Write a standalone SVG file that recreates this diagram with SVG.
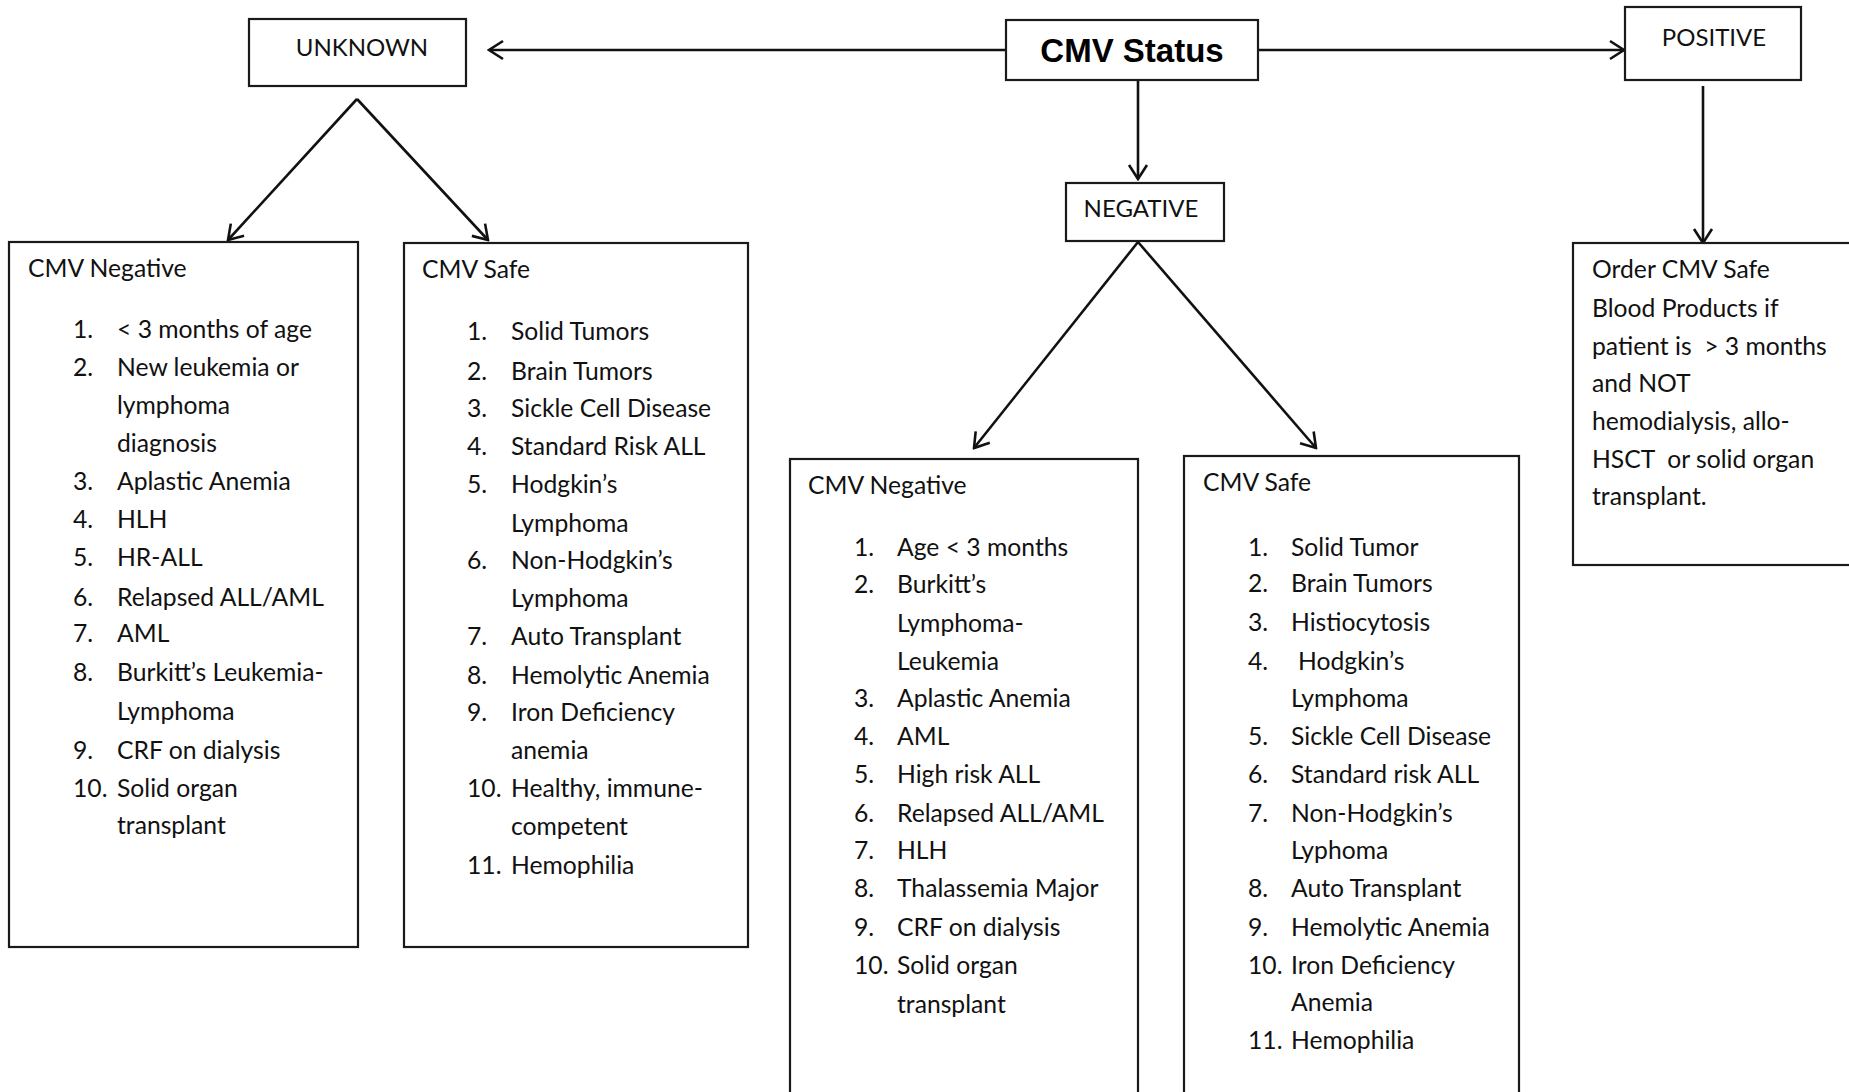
<svg xmlns="http://www.w3.org/2000/svg" width="1849" height="1092" viewBox="0 0 1849 1092">
<defs>
<marker id="ah" markerWidth="18" markerHeight="22" refX="16" refY="11" orient="auto" markerUnits="userSpaceOnUse">
<path d="M2,2 L16,11 L2,20" fill="none" stroke="#111" stroke-width="2.6"/>
</marker>
<style>
.box{fill:#fff;stroke:#1a1a1a;stroke-width:2.2}
.con{fill:none;stroke:#111;stroke-width:2.6}
.t{font-family:Lato,"Liberation Sans",sans-serif;font-size:24.7px;fill:#111;white-space:pre}
.lbl{font-family:Lato,"Liberation Sans",sans-serif;font-size:24px;fill:#111}
.title{font-family:"Liberation Sans",Arial,sans-serif;font-size:33px;font-weight:bold;fill:#000}
</style>
</defs>
<rect width="1849" height="1092" fill="#fff"/>

<g id="connectors">
<line class="con" x1="1006" y1="50" x2="489" y2="50" marker-end="url(#ah)"/>
<line class="con" x1="1258" y1="50" x2="1624" y2="50" marker-end="url(#ah)"/>
<line class="con" x1="1138" y1="80" x2="1138" y2="179" marker-end="url(#ah)"/>
<line class="con" x1="357" y1="99" x2="228" y2="240" marker-end="url(#ah)"/>
<line class="con" x1="357" y1="99" x2="488" y2="240" marker-end="url(#ah)"/>
<line class="con" x1="1138" y1="242" x2="974" y2="448" marker-end="url(#ah)"/>
<line class="con" x1="1138" y1="242" x2="1316" y2="448" marker-end="url(#ah)"/>
<line class="con" x1="1703" y1="86" x2="1703" y2="243" marker-end="url(#ah)"/>
</g>

<g id="cmv-status">
<rect class="box" x="1006" y="20" width="252" height="60"/>
<text class="title" x="1132" y="62" text-anchor="middle">CMV Status</text>
</g>

<g id="unknown">
<rect class="box" x="249" y="19" width="217" height="67"/>
<text class="lbl" x="362" y="56" text-anchor="middle">UNKNOWN</text>
</g>

<g id="positive">
<rect class="box" x="1625" y="7" width="176" height="73"/>
<text class="lbl" x="1714" y="46" text-anchor="middle">POSITIVE</text>
</g>

<g id="negative">
<rect class="box" x="1066" y="183" width="158" height="58"/>
<text class="lbl" x="1141" y="217" text-anchor="middle">NEGATIVE</text>
</g>

<g id="unknown-cmv-negative">
<rect class="box" x="9" y="242" width="349" height="705"/>
<g transform="translate(0,1.3)">
<text class="t" x="28" y="276">CMV Negative</text>
<text class="t" x="73" y="337">1.</text><text class="t" x="117" y="337">&lt; 3 months of age</text>
<text class="t" x="73" y="375">2.</text><text class="t" x="117" y="375">New leukemia or</text>
<text class="t" x="117" y="413">lymphoma</text>
<text class="t" x="117" y="451">diagnosis</text>
<text class="t" x="73" y="489">3.</text><text class="t" x="117" y="489">Aplastic Anemia</text>
<text class="t" x="73" y="527">4.</text><text class="t" x="117" y="527">HLH</text>
<text class="t" x="73" y="565">5.</text><text class="t" x="117" y="565">HR-ALL</text>
<text class="t" x="73" y="605">6.</text><text class="t" x="117" y="605">Relapsed ALL/AML</text>
<text class="t" x="73" y="641">7.</text><text class="t" x="117" y="641">AML</text>
<text class="t" x="73" y="680">8.</text><text class="t" x="117" y="680">Burkitt’s Leukemia-</text>
<text class="t" x="117" y="719">Lymphoma</text>
<text class="t" x="73" y="758">9.</text><text class="t" x="117" y="758">CRF on dialysis</text>
<text class="t" x="73" y="796">10.</text><text class="t" x="117" y="796">Solid organ</text>
<text class="t" x="117" y="833">transplant</text>
</g>
</g>

<g id="unknown-cmv-safe">
<rect class="box" x="404" y="243" width="344" height="704"/>
<g transform="translate(0,1.3)">
<text class="t" x="422" y="277">CMV Safe</text>
<text class="t" x="467" y="339">1.</text><text class="t" x="511" y="339">Solid Tumors</text>
<text class="t" x="467" y="379">2.</text><text class="t" x="511" y="379">Brain Tumors</text>
<text class="t" x="467" y="416">3.</text><text class="t" x="511" y="416">Sickle Cell Disease</text>
<text class="t" x="467" y="454">4.</text><text class="t" x="511" y="454">Standard Risk ALL</text>
<text class="t" x="467" y="492">5.</text><text class="t" x="511" y="492">Hodgkin’s</text>
<text class="t" x="511" y="531">Lymphoma</text>
<text class="t" x="467" y="568">6.</text><text class="t" x="511" y="568">Non-Hodgkin’s</text>
<text class="t" x="511" y="606">Lymphoma</text>
<text class="t" x="467" y="644">7.</text><text class="t" x="511" y="644">Auto Transplant</text>
<text class="t" x="467" y="683">8.</text><text class="t" x="511" y="683">Hemolytic Anemia</text>
<text class="t" x="467" y="720">9.</text><text class="t" x="511" y="720">Iron Deficiency</text>
<text class="t" x="511" y="758">anemia</text>
<text class="t" x="467" y="796">10.</text><text class="t" x="511" y="796">Healthy, immune-</text>
<text class="t" x="511" y="834">competent</text>
<text class="t" x="467" y="873">11.</text><text class="t" x="511" y="873">Hemophilia</text>
</g>
</g>

<g id="negative-cmv-negative">
<rect class="box" x="790" y="459" width="348" height="650"/>
<g transform="translate(0,1.3)">
<text class="t" x="808" y="493">CMV Negative</text>
<text class="t" x="854" y="555">1.</text><text class="t" x="897" y="555">Age &lt; 3 months</text>
<text class="t" x="854" y="592">2.</text><text class="t" x="897" y="592">Burkitt’s</text>
<text class="t" x="897" y="631">Lymphoma-</text>
<text class="t" x="897" y="669">Leukemia</text>
<text class="t" x="854" y="706">3.</text><text class="t" x="897" y="706">Aplastic Anemia</text>
<text class="t" x="854" y="744">4.</text><text class="t" x="897" y="744">AML</text>
<text class="t" x="854" y="782">5.</text><text class="t" x="897" y="782">High risk ALL</text>
<text class="t" x="854" y="821">6.</text><text class="t" x="897" y="821">Relapsed ALL/AML</text>
<text class="t" x="854" y="858">7.</text><text class="t" x="897" y="858">HLH</text>
<text class="t" x="854" y="896">8.</text><text class="t" x="897" y="896">Thalassemia Major</text>
<text class="t" x="854" y="935">9.</text><text class="t" x="897" y="935">CRF on dialysis</text>
<text class="t" x="854" y="973">10.</text><text class="t" x="897" y="973">Solid organ</text>
<text class="t" x="897" y="1012">transplant</text>
</g>
</g>

<g id="negative-cmv-safe">
<rect class="box" x="1184" y="456" width="335" height="653"/>
<g transform="translate(0,1.3)">
<text class="t" x="1203" y="490">CMV Safe</text>
<text class="t" x="1248" y="555">1.</text><text class="t" x="1291" y="555">Solid Tumor</text>
<text class="t" x="1248" y="591">2.</text><text class="t" x="1291" y="591">Brain Tumors</text>
<text class="t" x="1248" y="630">3.</text><text class="t" x="1291" y="630">Histiocytosis</text>
<text class="t" x="1248" y="669">4.</text><text class="t" x="1298" y="669">Hodgkin’s</text>
<text class="t" x="1291" y="706">Lymphoma</text>
<text class="t" x="1248" y="744">5.</text><text class="t" x="1291" y="744">Sickle Cell Disease</text>
<text class="t" x="1248" y="782">6.</text><text class="t" x="1291" y="782">Standard risk ALL</text>
<text class="t" x="1248" y="821">7.</text><text class="t" x="1291" y="821">Non-Hodgkin’s</text>
<text class="t" x="1291" y="858">Lyphoma</text>
<text class="t" x="1248" y="896">8.</text><text class="t" x="1291" y="896">Auto Transplant</text>
<text class="t" x="1248" y="935">9.</text><text class="t" x="1291" y="935">Hemolytic Anemia</text>
<text class="t" x="1248" y="973">10.</text><text class="t" x="1291" y="973">Iron Deficiency</text>
<text class="t" x="1291" y="1010">Anemia</text>
<text class="t" x="1248" y="1048">11.</text><text class="t" x="1291" y="1048">Hemophilia</text>
</g>
</g>

<g id="positive-order">
<rect class="box" x="1573" y="243" width="290" height="322"/>
<g transform="translate(0,1.3)">
<text class="t" x="1592" y="277">Order CMV Safe</text>
<text class="t" x="1592" y="316">Blood Products if</text>
<text class="t" x="1592" y="354" xml:space="preserve">patient is  &gt; 3 months</text>
<text class="t" x="1592" y="391">and NOT</text>
<text class="t" x="1592" y="429">hemodialysis, allo-</text>
<text class="t" x="1592" y="467" xml:space="preserve">HSCT  or solid organ</text>
<text class="t" x="1592" y="504">transplant.</text>
</g>
</g>
</svg>
